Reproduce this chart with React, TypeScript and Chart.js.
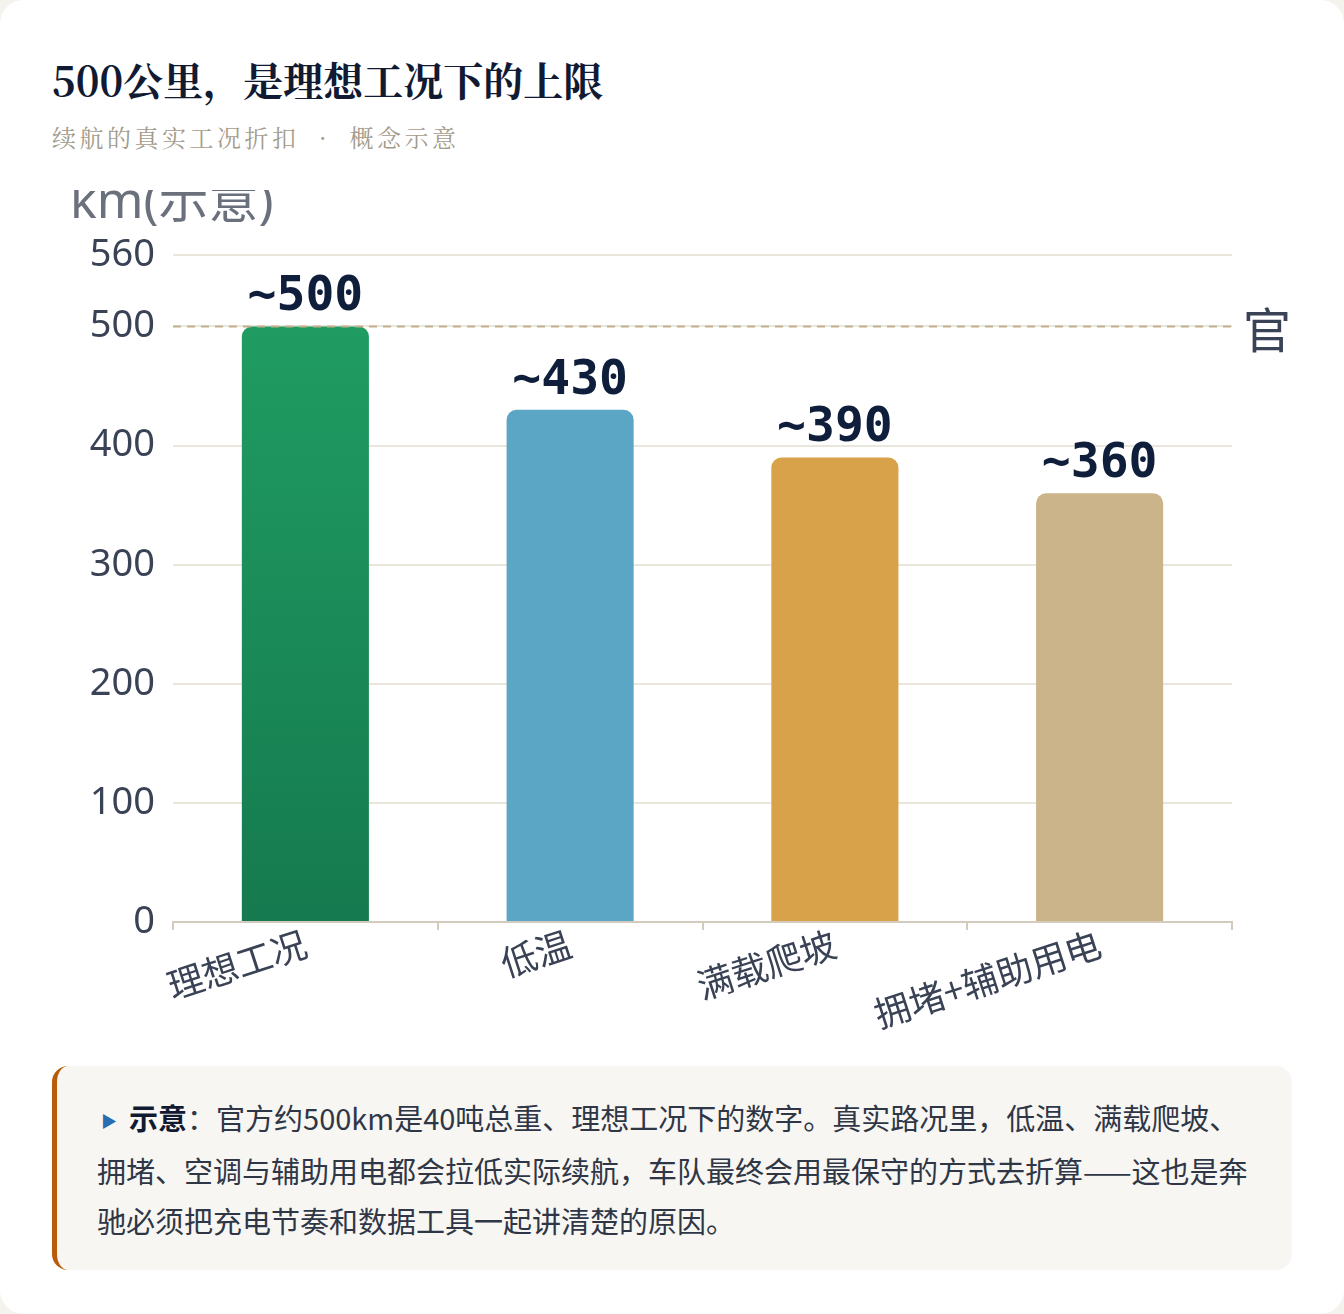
import React, { useEffect, useRef } from "react";
import { Chart, registerables } from "chart.js";

Chart.register(...registerables);

const categories = ["理想工况", "低温", "满载爬坡", "拥堵+辅助用电"];
const rangeValues = [500, 430, 390, 360];
const valueLabels = ["~500", "~430", "~390", "~360"];
const barColors = ["#1c8f5a", "#5ba6c4", "#d7a24a", "#cbb48a"];
const officialValue = 500;
const yMax = 560;
const yStep = 100;
const yAxisTitle = "km(示意)";
const officialLabel = "官方标称";

const serif = '"Noto Serif CJK SC", "Source Han Serif SC", "DejaVu Serif", serif';
const sans = '"Noto Sans", "Noto Sans CJK SC", sans-serif';

export default function App() {
  const ref = useRef<HTMLCanvasElement | null>(null);

  useEffect(() => {
    document.body.style.margin = "0";
    document.body.style.background = "#f5f3ee";
    const canvas = ref.current;
    if (!canvas) return;

    const overlay = {
      id: "overlay",
      afterDatasetsDraw(chart: any) {
        const { ctx, chartArea, scales } = chart;
        const y = scales.y;
        const yo = y.getPixelForValue(officialValue);
        ctx.save();
        // dashed official line
        ctx.strokeStyle = "#c2b08c";
        ctx.lineWidth = 2;
        ctx.setLineDash([8, 6]);
        ctx.beginPath();
        ctx.moveTo(chartArea.left, yo);
        ctx.lineTo(chartArea.right, yo);
        ctx.stroke();
        ctx.setLineDash([]);
        // official label (clipped by canvas edge)
        ctx.fillStyle = "#3a4256";
        ctx.font = '48px "Noto Sans CJK SC", sans-serif';
        ctx.textAlign = "left";
        ctx.textBaseline = "middle";
        ctx.fillText(officialLabel, chartArea.right + 11, yo + 3);
        // value labels
        const meta = chart.getDatasetMeta(0);
        ctx.fillStyle = "#0f1e3a";
        ctx.font = 'bold 48px "DejaVu Sans Mono", monospace';
        ctx.textAlign = "center";
        ctx.textBaseline = "alphabetic";
        meta.data.forEach((bar: any, i: number) => {
          ctx.fillText(valueLabels[i], bar.x, bar.y - 16);
        });
        // y axis title (top-left, clipped)
        ctx.fillStyle = "#6b707d";
        ctx.font = '50px "Noto Sans", "Noto Sans CJK SC", sans-serif';
        ctx.textAlign = "left";
        ctx.textBaseline = "alphabetic";
        ctx.fillText(yAxisTitle, 18, 28);
        ctx.restore();
      },
    };

    const chart = new Chart(canvas, {
      type: "bar",
      data: {
        labels: categories,
        datasets: [
          {
            data: rangeValues,
            backgroundColor: (c: any) => {
              const i = c.dataIndex;
              if (i === 0) {
                const area = c.chart.chartArea;
                if (!area) return barColors[0];
                const g = c.chart.ctx.createLinearGradient(0, area.top, 0, area.bottom);
                g.addColorStop(0, "#21a064");
                g.addColorStop(1, "#157a4f");
                return g;
              }
              return barColors[i];
            },
            borderRadius: 10,
            barPercentage: 0.48,
            categoryPercentage: 1,
          },
        ],
      },
      options: {
        animation: false,
        responsive: false,
        maintainAspectRatio: false,
        devicePixelRatio: 1,
        layout: { padding: { top: 65, right: 60, left: 0, bottom: 0 } },
        plugins: {
          legend: { display: false },
          tooltip: { enabled: false },
        },
        scales: {
          x: {
            grid: {
              display: true,
              drawOnChartArea: false,
              drawTicks: true,
              tickLength: 8,
              color: "#d3cbbd",
              lineWidth: 2,
            },
            border: { display: true, color: "#d3cbbd", width: 2 },
            ticks: {
              minRotation: 18,
              maxRotation: 18,
              padding: -8,
              color: "#3a4256",
              font: { family: '"Noto Sans CJK SC", sans-serif', size: 36 },
            },
            afterFit: (s: any) => {
              s.height = 118;
            },
          },
          y: {
            min: 0,
            max: yMax,
            grid: {
              color: "#ebe6dc",
              lineWidth: 2,
              drawTicks: false,
            },
            border: { display: false },
            ticks: {
              stepSize: yStep,
              padding: 18,
              color: "#3a4256",
              font: { family: sans, size: 38 },
            },
            afterFit: (s: any) => {
              s.width = 121;
            },
          },
        },
      },
      plugins: [overlay],
    });
    return () => chart.destroy();
  }, []);

  return (
    <div
      style={{
        position: "relative",
        width: 1344,
        height: 1314,
        background: "#ffffff",
        borderRadius: 24,
        overflow: "hidden",
      }}
    >
      <div
        style={{
          position: "absolute",
          left: 52,
          top: 55,
          fontFamily: serif,
          fontWeight: 700,
          fontSize: 40,
          lineHeight: "48px",
          color: "#111a33",
          whiteSpace: "nowrap",
        }}
      >
        500公里，是理想工况下的上限
      </div>
      <div
        style={{
          position: "absolute",
          left: 52,
          top: 121,
          fontFamily: serif,
          fontSize: 24,
          lineHeight: "32px",
          letterSpacing: 3.5,
          color: "#a39b8b",
          whiteSpace: "nowrap",
        }}
      >
        {"续航的真实工况折扣\u00a0\u00a0·\u00a0\u00a0概念示意"}
      </div>
      <div style={{ position: "absolute", left: 52, top: 190, width: 1240, height: 850 }}>
        <canvas ref={ref} width={1240} height={850} style={{ display: "block" }} />
      </div>
      <div
        style={{
          position: "absolute",
          left: 52,
          top: 1066,
          width: 1240,
          height: 204,
          boxSizing: "border-box",
          background: "#f8f6f2",
          borderLeft: "5px solid #b85c0a",
          borderRadius: 16,
          padding: "26px 20px 26px 40px",
          fontFamily: '"Noto Sans CJK SC", sans-serif',
          fontSize: 29,
          lineHeight: "50px",
          color: "#2f3646",
          whiteSpace: "nowrap",
        }}
      >
        <span style={{ color: "#2a6db0", fontSize: 16, marginLeft: 4, marginRight: 12, verticalAlign: "3px" }}>▶</span>
        <b style={{ color: "#111a33" }}>示意</b>：官方约500km是40吨总重、理想工况下的数字。真实路况里，低温、满载爬坡、
        <br />
        拥堵、空调与辅助用电都会拉低实际续航，车队最终会用最保守的方式去折算——这也是奔
        <br />
        驰必须把充电节奏和数据工具一起讲清楚的原因。
      </div>
    </div>
  );
}
